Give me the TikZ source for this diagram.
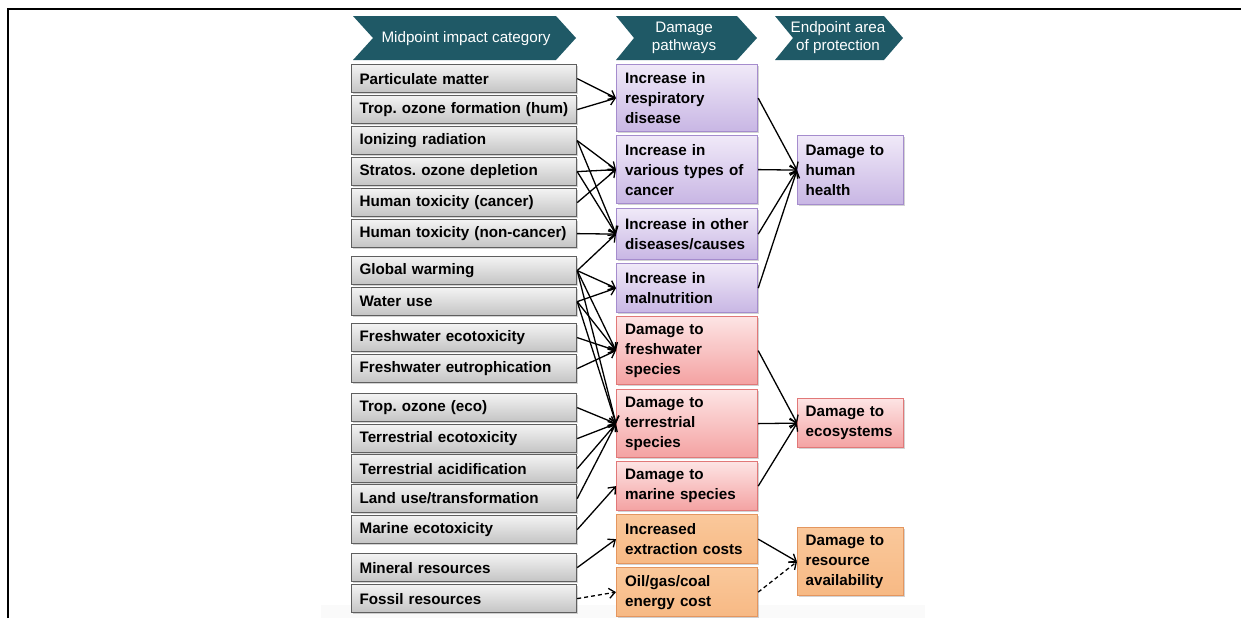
\documentclass[tikz,border=0pt]{standalone}
\usepackage{fontspec}
\setmainfont{Liberation Sans}
\usetikzlibrary{arrows.meta,shadows}
\frenchspacing
\definecolor{hdr}{RGB}{31,89,102}
\definecolor{lgtop}{RGB}{243,243,243}
\definecolor{lgbot}{RGB}{196,196,196}
\definecolor{lgbrd}{RGB}{95,95,95}
\definecolor{putop}{RGB}{240,233,248}
\definecolor{pubot}{RGB}{200,182,228}
\definecolor{pubrd}{RGB}{165,140,205}
\definecolor{retop}{RGB}{253,228,228}
\definecolor{rebot}{RGB}{244,162,162}
\definecolor{rebrd}{RGB}{225,120,120}
\definecolor{ortop}{RGB}{250,200,155}
\definecolor{orbot}{RGB}{247,185,132}
\definecolor{orbrd}{RGB}{228,150,95}
\begin{document}
\begin{tikzpicture}[x=0.5pt,y=-0.5pt,
  box/.style={draw, line width=0.6pt, anchor=north west, inner xsep=4pt, inner ysep=0pt,
    font=\bfseries\fontsize{7.6}{10}\selectfont\frenchspacing, align=left,
    drop shadow={shadow xshift=0.6pt, shadow yshift=-0.9pt, opacity=0.35}},
  lbox/.style={box, draw=lgbrd, top color=lgtop, bottom color=lgbot, text width=104.5pt, minimum height=14pt},
  mbox/.style={box, inner xsep=4.25pt, text width=62pt},
  rbox/.style={box, text width=45pt},
  pu/.style={draw=pubrd, top color=putop, bottom color=pubot},
  re/.style={draw=rebrd, top color=retop, bottom color=rebot},
  orng/.style={draw=orbrd, top color=ortop, bottom color=orbot},
  hdrtext/.style={text=white, font=\fontsize{7.6}{9}\selectfont, align=center},
  conn/.style={line width=0.65pt, -{Straight Barb[length=3pt,width=5pt]}},
  dconn/.style={conn, dash pattern=on 2pt off 1.5pt}
]
\useasboundingbox (0,0) rectangle (1241,618);
\fill[black!2] (321,605) rectangle (925,618);
\draw[line width=1pt] (8,618) -- (8,9) -- (1241,9);

% headers
\fill[hdr] (353,16) -- (556,16) -- (576,38) -- (556,60) -- (353,60) -- (373,38) -- cycle;
\node[hdrtext] (h1) at (466,39) {Midpoint impact category};
\fill[hdr] (616,16) -- (737,16) -- (757,38) -- (737,60) -- (616,60) -- (634,38) -- cycle;
\node[hdrtext] (h2) at (684,38) {Damage\\pathways};
\fill[hdr] (775,16) -- (884,16) -- (903,38) -- (884,60) -- (775,60) -- (793,38) -- cycle;
\node[hdrtext] (h3) at (838,38) {Endpoint area\\of protection};

% left boxes
\node[lbox] (pm)   at (351,64)  {Particulate matter};
\node[lbox] (toh)  at (351,95)  {Trop. ozone formation (hum)};
\node[lbox] (ir)   at (351,126) {Ionizing radiation};
\node[lbox] (sod)  at (351,157) {Stratos. ozone depletion};
\node[lbox] (htc)  at (351,188) {Human toxicity (cancer)};
\node[lbox] (htn)  at (351,219) {Human toxicity (non-cancer)};
\node[lbox] (gw)   at (351,256) {Global warming};
\node[lbox] (wu)   at (351,287) {Water use};
\node[lbox] (fet)  at (351,323) {Freshwater ecotoxicity};
\node[lbox] (feu)  at (351,354) {Freshwater eutrophication};
\node[lbox] (toe)  at (351,393) {Trop. ozone (eco)};
\node[lbox] (tet)  at (351,424) {Terrestrial ecotoxicity};
\node[lbox] (ta)   at (351,454) {Terrestrial acidification};
\node[lbox] (lu)   at (351,484) {Land use/transformation};
\node[lbox] (me)   at (351,515) {Marine ecotoxicity};
\node[lbox] (mr)   at (351,553) {Mineral resources};
\node[lbox] (fr)   at (351,584) {Fossil resources};

% middle boxes
\node[mbox,pu,minimum height=33.5pt] (m1) at (616,64)  {Increase in\\respiratory\\disease};
\node[mbox,pu,minimum height=34pt]   (m2) at (616,135) {Increase in\\various types of\\cancer};
\node[mbox,pu,minimum height=25.5pt] (m3) at (616,208) {Increase in other\\diseases/causes};
\node[mbox,pu,minimum height=24.5pt] (m4) at (616,263) {Increase in\\malnutrition};
\node[mbox,re,minimum height=34pt]   (m5) at (616,316) {Damage to\\freshwater\\species};
\node[mbox,re,minimum height=34pt]   (m6) at (616,389) {Damage to\\terrestrial\\species};
\node[mbox,re,minimum height=24.5pt] (m7) at (616,461) {Damage to\\marine species};
\node[mbox,orng,minimum height=24.5pt] (m8) at (616,514) {Increased\\extraction costs};
\node[mbox,orng,minimum height=24.5pt] (m9) at (616,567) {Oil/gas/coal\\energy cost};

% right boxes
\node[rbox,pu,minimum height=34.5pt]   (r1) at (797,135) {Damage to\\human\\health};
\node[rbox,re,minimum height=24.5pt]   (r2) at (797,398) {Damage to\\ecosystems};
\node[rbox,orng,minimum height=34pt]   (r3) at (797,527) {Damage to\\resource\\availability};

% connectors left -> middle
\draw[conn] (pm.east) -- (m1.west);
\draw[conn] (toh.east) -- (m1.west);
\draw[conn] (ir.east) -- (m2.west);
\draw[conn] (ir.east) -- (m3.west);
\draw[conn] (sod.east) -- (m2.west);
\draw[conn] (sod.east) -- (m3.west);
\draw[conn] (htc.east) -- (m2.west);
\draw[conn] (htn.east) -- (m3.west);
\draw[conn] (gw.east) -- (m3.west);
\draw[conn] (gw.east) -- (m4.west);
\draw[conn] (gw.east) -- (m5.west);
\draw[conn] (gw.east) -- (m6.west);
\draw[conn] (wu.east) -- (m4.west);
\draw[conn] (wu.east) -- (m5.west);
\draw[conn] (wu.east) -- (m6.west);
\draw[conn] (fet.east) -- (m5.west);
\draw[conn] (feu.east) -- (m5.west);
\draw[conn] (toe.east) -- (m6.west);
\draw[conn] (tet.east) -- (m6.west);
\draw[conn] (ta.east) -- (m6.west);
\draw[conn] (lu.east) -- (m6.west);
\draw[conn] (me.east) -- (m7.west);
\draw[conn] (mr.east) -- (m8.west);
\draw[dconn] (fr.east) -- (m9.west);

% connectors middle -> right
\draw[conn] (m1.east) -- (r1.west);
\draw[conn] (m2.east) -- (r1.west);
\draw[conn] (m3.east) -- (r1.west);
\draw[conn] (m4.east) -- (r1.west);
\draw[conn] (m5.east) -- (r2.west);
\draw[conn] (m6.east) -- (r2.west);
\draw[conn] (m7.east) -- (r2.west);
\draw[conn] (m8.east) -- (r3.west);
\draw[dconn] (m9.east) -- (r3.west);
\end{tikzpicture}
\end{document}
